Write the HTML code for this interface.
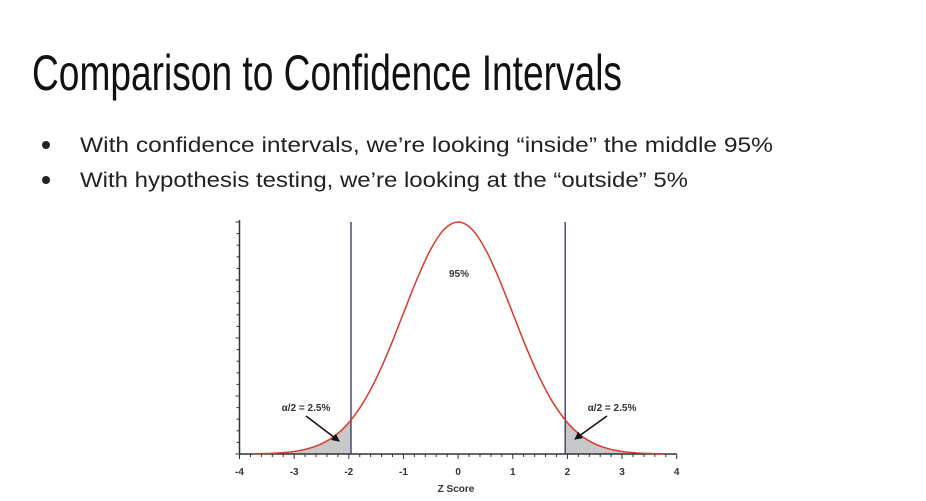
<!DOCTYPE html>
<html><head><meta charset="utf-8"><style>
html,body{margin:0;padding:0;background:#fff;width:926px;height:501px;overflow:hidden}
svg{display:block}
</style></head><body>
<svg width="926" height="501" viewBox="0 0 926 501">
<text x="32" y="90" font-family="Liberation Sans, sans-serif" font-size="50" fill="#111" textLength="590" lengthAdjust="spacingAndGlyphs">Comparison to Confidence Intervals</text>
<circle cx="46" cy="145" r="4" fill="#222"/>
<text x="80" y="152" font-family="Liberation Sans, sans-serif" font-size="21" fill="#222" textLength="693" lengthAdjust="spacingAndGlyphs">With confidence intervals, we’re looking “inside” the middle 95%</text>
<circle cx="46" cy="180" r="4" fill="#222"/>
<text x="80" y="187" font-family="Liberation Sans, sans-serif" font-size="21" fill="#222" textLength="608" lengthAdjust="spacingAndGlyphs">With hypothesis testing, we’re looking at the “outside” 5%</text>
<g id="chart"></g>
</svg>
<script>
const zValues=[-3.75,-3.5,-3.25,-3,-2.75,-2.5,-2.25,-2,-1.75,-1.5,-1.25,-1,-0.75,-0.5,-0.25,0,0.25,0.5,0.75,1,1.25,1.5,1.75,2,2.25,2.5,2.75,3,3.25,3.5,3.75];
const density=[0.0004,0.0009,0.002,0.0044,0.0091,0.0175,0.0317,0.054,0.0863,0.1295,0.1826,0.242,0.3011,0.3521,0.3867,0.3989,0.3867,0.3521,0.3011,0.242,0.1826,0.1295,0.0863,0.054,0.0317,0.0175,0.0091,0.0044,0.002,0.0009,0.0004];
const xTickLabels=[-4,-3,-2,-1,0,1,2,3,4];
const criticalValues=[-1.96,1.96];
const NS='http://www.w3.org/2000/svg';
const g=document.getElementById('chart');
const X0=239.5,X1=676.7,YB=454,YT=222,YMAX=0.3989;
const xs=z=>X0+(z+4)/8*(X1-X0);
const ys=d=>YB-d/YMAX*(YB-YT);
function el(t,a,p){const e=document.createElementNS(NS,t);for(const k in a)e.setAttribute(k,a[k]);(p||g).appendChild(e);return e;}
// smooth path
const pts=zValues.map((z,i)=>[xs(z),ys(density[i])]);
let d='M'+pts[0][0]+','+pts[0][1];
for(let i=0;i<pts.length-1;i++){const p0=pts[Math.max(0,i-1)],p1=pts[i],p2=pts[i+1],p3=pts[Math.min(pts.length-1,i+2)];
d+=' C'+(p1[0]+(p2[0]-p0[0])/6)+','+(p1[1]+(p2[1]-p0[1])/6)+' '+(p2[0]-(p3[0]-p1[0])/6)+','+(p2[1]-(p3[1]-p1[1])/6)+' '+p2[0]+','+p2[1];}
const defs=el('defs',{});
const cp=el('clipPath',{id:'tails'},defs);
el('rect',{x:0,y:0,width:xs(criticalValues[0]),height:501},cp);
el('rect',{x:xs(criticalValues[1]),y:0,width:926,height:501},cp);
const sh=el('path',{d:d+' L'+pts[pts.length-1][0]+','+YB+' L'+pts[0][0]+','+YB+' Z',fill:'#c8c8c8','clip-path':'url(#tails)'});


// axes
const ya=el('line',{x1:X0,y1:YT-2,x2:X0,y2:YB,stroke:'#333','stroke-width':1.5});


for(let i=0;i<=20;i++){const y=YB-i*(YB-YT)/20;const t=el('line',{x1:X0-(i%5==0?4:3),y1:y,x2:X0,y2:y,stroke:'#333','stroke-width':1});

}
const xa=el('line',{x1:X0,y1:YB,x2:X1,y2:YB,stroke:'#333','stroke-width':1.5});


for(let i=0;i<=40;i++){const x=X0+i*(X1-X0)/40;const t=el('line',{x1:x,y1:YB,x2:x,y2:YB+(i%5==0?5:3),stroke:'#333','stroke-width':1});

}
xTickLabels.forEach(v=>{const t=el('text',{x:xs(v),y:475,'text-anchor':'middle','font-family':'Liberation Sans, sans-serif','font-size':10,'font-weight':'bold',fill:'#333'});t.textContent=v;

});
const xt=el('text',{x:456,y:492,'text-anchor':'middle','font-family':'Liberation Sans, sans-serif','font-size':10,'font-weight':'bold',fill:'#333'});xt.textContent='Z Score';


criticalValues.forEach(c=>{const l=el('line',{x1:xs(c),y1:YT,x2:xs(c),y2:YB,stroke:'#4a4a66','stroke-width':1.5});

});
const cv=el('path',{d:d,fill:'none',stroke:'#d9382e','stroke-width':1.5});


function lab(x,y,s,n){const t=el('text',{x:x,y:y,'text-anchor':'middle','font-family':'Liberation Sans, sans-serif','font-size':10,'font-weight':'bold',fill:'#333'});t.textContent=s;

}
lab(459,277,'95%','middle-label');
lab(306,411,'α/2 = 2.5%','left-tail-label');
lab(612,411,'α/2 = 2.5%','right-tail-label');
const mk=el('marker',{id:'ah',markerWidth:8,markerHeight:8,refX:7,refY:4,orient:'auto',markerUnits:'userSpaceOnUse'},defs);
el('path',{d:'M0,0 L8,4 L0,8 Z',fill:'#111'},mk);
const a1=el('line',{x1:306,y1:416,x2:339,y2:441,stroke:'#111','stroke-width':1.5,'marker-end':'url(#ah)'});


const a2=el('line',{x1:607,y1:416,x2:575,y2:439,stroke:'#111','stroke-width':1.5,'marker-end':'url(#ah)'});


</script>
</body></html>
